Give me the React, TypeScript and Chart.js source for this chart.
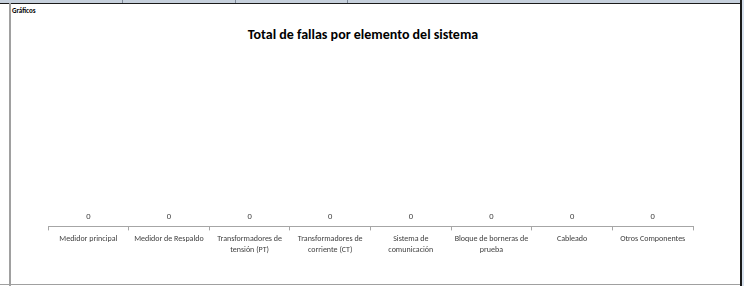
import React, { useEffect, useRef } from "react";
import { Chart, registerables } from "chart.js";

Chart.register(...registerables);

const categories: (string | string[])[] = [
  "Medidor principal",
  "Medidor de Respaldo",
  ["Transformadores de", "tensión (PT)"],
  ["Transformadores de", "corriente (CT)"],
  ["Sistema de", "comunicación"],
  ["Bloque de borneras de", "prueba"],
  "Cableado",
  "Otros Componentes",
];
const fallas: number[] = [0, 0, 0, 0, 0, 0, 0, 0];
const chartTitle = "Total de fallas por elemento del sistema";
const sheetLabel = "Gráficos";

const FONT = "Carlito, Calibri, Lato, 'Noto Sans', sans-serif";

const valueLabels = {
  id: "valueLabels",
  afterDatasetsDraw(chart: any) {
    const ctx = chart.ctx;
    const meta = chart.getDatasetMeta(0);
    ctx.save();
    ctx.font = `8.5px ${FONT}`;
    ctx.fillStyle = "#404040";
    ctx.textAlign = "center";
    ctx.textBaseline = "alphabetic";
    meta.data.forEach((el: any, i: number) => {
      const v = chart.data.datasets[0].data[i];
      ctx.fillText(String(v), el.x, el.y - 7);
    });
    ctx.restore();
  },
};

export default function App() {
  const ref = useRef<HTMLCanvasElement>(null);
  useEffect(() => {
    const chart = new Chart(ref.current!, {
      type: "bar",
      data: {
        labels: categories,
        datasets: [{ data: fallas, backgroundColor: "#4f81bd" }],
      },
      options: {
        animation: false,
        responsive: false,
        maintainAspectRatio: false,
        layout: { padding: { left: 37, right: 47, top: 40, bottom: 26 } },
        plugins: { legend: { display: false }, title: { display: false }, tooltip: { enabled: false } },
        scales: {
          y: { display: false, min: 0, max: 1 },
          x: {
            offset: true,
            border: { display: true, color: "#a6a6a6", width: 1 },
            grid: { display: true, offset: true, drawOnChartArea: false, drawTicks: true, tickLength: 4, color: "#a6a6a6" },
            ticks: {
              color: "#404040",
              font: { family: FONT, size: 8, lineHeight: 1.35 },
              padding: 3,
              maxRotation: 0,
              autoSkip: false,
            },
          },
        },
      },
      plugins: [valueLabels],
    });
    return () => chart.destroy();
  }, []);

  return (
    <div style={{ position: "fixed", left: 0, top: 0, width: 744, height: 286, background: "#fff", overflow: "hidden" }}>
      <div style={{ position: "absolute", left: 0, top: 0, width: 744, height: 3, background: "#c6d0dc" }} />
      {[122, 235, 347].map((x) => (
        <div key={x} style={{ position: "absolute", left: x, top: 0, width: 1, height: 3, background: "#7f8a99" }} />
      ))}
      <div style={{ position: "absolute", left: 0, top: 3, width: 741, height: 1, background: "#1a1a1a" }} />
      <div style={{ position: "absolute", left: 9, top: 3, width: 2, height: 283, background: "#a0a0a0" }} />
      <div style={{ position: "absolute", left: 0, top: 284, width: 741, height: 1, background: "#a0a0a0" }} />
      <div style={{ position: "absolute", left: 740, top: 0, width: 2, height: 286, background: "#1a1a1a" }} />
      <div style={{ position: "absolute", left: 742, top: 0, width: 2, height: 286, background: "#d6e0ec" }} />
      <div style={{ position: "absolute", left: 12, top: 6, fontFamily: FONT, fontWeight: 700, fontSize: 7, lineHeight: "9px", color: "#000" }}>
        {sheetLabel}
      </div>
      <div style={{ position: "absolute", left: 0, width: 726, top: 27, textAlign: "center", fontFamily: FONT, fontWeight: 700, fontSize: 14, lineHeight: "16px", color: "#000" }}>
        {chartTitle}
      </div>
      <canvas ref={ref} width={729} height={280} style={{ position: "absolute", left: 11, top: 4, width: 729, height: 280 }} />
    </div>
  );
}
